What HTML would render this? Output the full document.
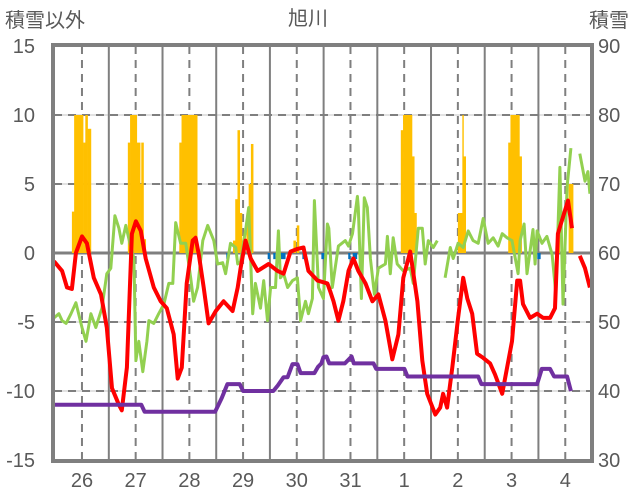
<!DOCTYPE html>
<html><head><meta charset="utf-8">
<style>
html,body{margin:0;padding:0;background:#fff;}
svg{display:block;}
text{font-family:"Liberation Sans","Noto Sans CJK JP",sans-serif;fill:#595959;}
</style></head>
<body>
<svg id="chart" width="636" height="501" viewBox="0 0 636 501" xmlns="http://www.w3.org/2000/svg">
  <text x="308" y="25" font-size="20" text-anchor="middle">旭川</text>
  <text x="5" y="27" font-size="20">積雪以外</text>
  <text x="589" y="27" font-size="20">積雪</text>
  <g id="grid"></g>
  <g id="bars"></g>
  <g id="lines"></g>
  <g id="axes"></g>
</svg>
<script>
// ---- data ----
const leftTicks = [15, 10, 5, 0, -5, -10, -15];
const rightTicks = [90, 80, 70, 60, 50, 40, 30];
const dayLabels = ["26","27","28","29","30","31","1","2","3","4"];

const redHours = [0,3.6,5.8,8,9.8,12.5,14.7,17.8,21,23.6,25.9,29,30.3,32.6,34.8,36.6,38.8,41,44.6,47.7,50.4,53.5,55.3,57.1,59.3,62,63.3,64.7,66.9,69.1,72.3,75.8,79.8,82.1,83.4,85.6,87.9,91,95.9,99.9,102.6,105.7,108.8,111.5,113.7,117.8,122.2,123.5,124.9,127.1,129.3,131.6,133.8,136,139.2,142.3,145,148.1,151.2,153.9,156.1,159.2,162.4,164.6,166.8,170.4,172.6,173.9,175.7,178,180.6,182.9,184.7,186.9,189.1,191.8,194.9,197.1,200.3,202.5,204.7,207,208.3,209.6,212.8,215.9,218.6,221.7,223.9,225.2,229.7,231.5,233,235,237.3,239.5];
const redValues = [-0.6,-1.3,-2.5,-2.6,0,1.2,0.7,-1.8,-3.0,-5.4,-9.8,-11,-11.4,-8.3,1.4,2.3,1.6,-0.4,-2.5,-3.5,-4.0,-5.9,-9.1,-8.3,-2.2,0.9,1.1,-0.1,-2.5,-5.1,-4.2,-3.5,-4.2,-2.5,-1.1,0.9,-0.4,-1.3,-0.8,-1.3,-1.5,0.1,0.3,0.4,-1.3,-2.0,-2.2,-2.8,-3.5,-4.9,-3.5,-1.3,-0.4,-1.3,-2.2,-3.5,-3.0,-4.9,-7.7,-5.9,-1.8,0.1,-3.5,-7.8,-10.2,-11.7,-11.2,-10.2,-11.2,-8.3,-4.7,-1.8,-3.3,-4.4,-7.3,-7.6,-8.0,-8.8,-10.2,-8.3,-6.4,-2.0,-2.0,-3.7,-4.7,-4.4,-4.7,-4.7,-4.0,1.4,3.8,1.8,null,-0.2,-1.1,-2.5];

const greenHours = [0,2.2,3.6,5.4,7.6,9.8,12.5,14.3,16.5,18.7,21.4,23.6,25.4,27.2,29,30.3,32.1,33.9,35.7,36.6,37.9,39.7,41.5,42.4,44.6,46.8,49.1,51.3,53.1,54.4,56.6,58.9,61.1,62.4,64.2,66.5,68.7,71.4,73.1,75.4,76.7,78.9,81.2,82.1,83.4,85.6,87,88.8,90,92.3,93.7,95.4,96.8,99,100.3,101.2,102.6,104.4,106.6,108.8,110.2,112.4,113.7,115.5,116.4,118.2,120.4,122.2,122.8,124.4,127.1,130.2,131.6,133.4,135.6,136,137.4,138.7,140,141.4,143.2,145,148.1,149,150.3,151.6,153.4,156.1,159.2,160.6,162.8,164.6,165.9,167.3,169.5,171.3,173,174.8,177.1,178.4,180.6,182.9,185.1,187.3,189.6,191.8,194,196.3,198.5,200.3,202.5,204.7,207.4,208.3,210.1,211.4,214.1,215,215.9,218.1,220.3,222.6,224.3,226.1,227.5,229.3,231,233,235,237.3,238.6,239.5];
const greenValues = [-4.7,-4.4,-4.9,-5.1,-4.4,-3.6,-5.4,-6.4,-4.4,-5.4,-4.0,-1.5,-1.1,2.7,1.8,0.7,2.0,0.7,-0.4,-7.8,-6.4,-8.6,-6.4,-4.9,-5.1,-4.4,-3.7,-2.2,-2.2,2.2,0.7,0.7,-1.8,-3.5,-2.5,0.9,2.0,0.9,-0.8,-0.7,-1.5,0.7,0.4,-0.8,-0.6,1.6,3.3,-4.4,-2.2,-4.0,-2.0,-4.9,-2.5,-2.5,1.6,-1.8,-1.5,-2.5,-2.0,-1.8,-4.9,-3.5,-4.4,-3.3,3.8,-2.5,-3.3,2.1,1.8,-2.5,0.5,0.9,0.5,1.4,4.1,3.3,-3.3,4.0,3.3,-0.4,-3.0,-1.1,-0.8,1.2,-1.5,1.1,-0.8,-1.3,-1.1,-2.2,1.8,1.8,-0.8,0.9,0.4,0.9,null,-1.8,0.4,-0.4,0.7,0.4,1.6,0.9,0.7,2.5,0.7,1.1,0.5,1.4,1.1,0.9,-1.5,0.9,2.1,-1.5,1.7,-0.8,1.6,0.7,1.2,-0.1,-3.0,6.2,-3.7,4.8,7.6,null,7.2,5.2,5.9,4.3];

const snowHours = [0,39,40.5,72,73.5,75,77.5,83,84.5,96,98,100,102.6,104.4,106.6,108.8,110.2,116.4,118,119.5,120.4,121.8,123,130,133,134,142.8,144,156.6,158,189.6,191,215.9,218,221.7,223.5,229.3,231,235,239.5];
const snowValues = [38,38,37,37,38,39,41,41,40,40,40,40.8,42,42,43.9,43.9,42.6,42.6,43.5,44,44.9,45,44,44,45,44,44,43.2,43.2,42.1,42.1,41,41,43.2,43.2,42.1,42.1,40,null,40];

const precipStart = [8,9,13,14,15, 33,34,37,38.5,39,40, 56,57, 80,81,82,83,84, 86,87,88, 107,108.5, 155,156,160,161, 180.5,182.5,183, 203,204,208, 225,230];
const precipEnd   = [9,13,14,15,16.5, 34,37,38.5,39,40,41, 57,64, 81,82,83,84,85, 87,88,89, 108,109.5, 156,160,161,162, 182.5,183,184, 204,208,209, 226,232];
const precipValues= [3,10,8,10,9, 8,10,8,5,8,1, 8,10, 0.9,3.9,8.9,2.9,0.9, 2.9,5,7.9, 0.9,2, 8.9,10,7,2.9, 2.9,10,7, 8,10,7, 2.8,5];

const blueStart = [77,95.5,98,101,111,119.5,131.5,133.5,216];
const blueEnd   = [78,96.5,99,103.5,112,122,132.5,135.5,217.5];
const blueValues= [-0.3,-0.3,-0.3,-0.3,-0.3,-0.3,-0.3,-0.3,-0.3];

// ---- scales ----
const X0 = 54, X1 = 591, Y0 = 46, Y1 = 460, HMAX = 240;
const xs = h => X0 + h / HMAX * (X1 - X0);
const yL = v => 253 - v * (Y1 - Y0) / 30;
const yR = r => Y1 - (r - 30) * (Y1 - Y0) / 60;
const NS = "http://www.w3.org/2000/svg";
function mk(tag, attrs, parent) {
  const e = document.createElementNS(NS, tag);
  for (const k in attrs) e.setAttribute(k, attrs[k]);
  parent.appendChild(e);
  return e;
}
const grid = document.getElementById('grid');
const bars = document.getElementById('bars');
const lines = document.getElementById('lines');
const axes = document.getElementById('axes');

// horizontal grid
leftTicks.forEach(v => {
  if (v === 15 || v === -15 || v === 0) return;
  const y = yL(v);
  const l1 = mk('line', {x1: X0, x2: X1, y1: y, y2: y, stroke: '#d9d9d9', 'stroke-width': 1.5}, grid);
  
  
  const l2 = mk('line', {x1: X0, x2: X1, y1: y, y2: y, stroke: '#7f7f7f', 'stroke-width': 2, 'stroke-dasharray': '8,6'}, grid);
  
  
});
// vertical lines
dayLabels.forEach((d, i) => {
  const xd = xs(12.5 + 24 * i);
  const ld = mk('line', {x1: xd, x2: xd, y1: Y0, y2: Y1, stroke: '#7f7f7f', 'stroke-width': 2, 'stroke-dasharray': '8,6'}, grid);
  
  
  const xsol = xs(24.5 + 24 * i);
  if (xsol < X1 - 3) {
    const ls = mk('line', {x1: xsol, x2: xsol, y1: Y0, y2: Y1, stroke: '#7f7f7f', 'stroke-width': 2}, grid);
    
    
  }
  const t = mk('text', {x: xd, y: 487, 'font-size': 20, 'text-anchor': 'middle'}, axes);
  t.textContent = d;
  
  
});

// bars
precipValues.forEach((v, i) => {
  const x = xs(precipStart[i]), w = xs(precipEnd[i]) - x;
  const r = mk('rect', {x: x, y: yL(v), width: w + 0.3, height: yL(0) - yL(v), fill: '#FFC000'}, bars);
  
  
});
blueValues.forEach((v, i) => {
  const x = xs(blueStart[i]), w = xs(blueEnd[i]) - x;
  const r = mk('rect', {x: x, y: yL(0), width: w, height: yL(v) - yL(0) + 2, fill: '#0070C0'}, bars);
  
  
});

// zero line
const z = mk('line', {x1: X0, x2: X1, y1: yL(0), y2: yL(0), stroke: '#7f7f7f', 'stroke-width': 3}, grid);



function pathFrom(hs, vs, yf) {
  let d = '', pen = false;
  hs.forEach((h, i) => {
    const v = vs[i];
    if (v === null) { pen = false; return; }
    d += (pen ? 'L' : 'M') + xs(h).toFixed(1) + ',' + yf(v).toFixed(1);
    pen = true;
  });
  return d;
}
const g = mk('path', {d: pathFrom(greenHours, greenValues, yL), fill: 'none', stroke: '#92D050', 'stroke-width': 3, 'stroke-linejoin': 'round'}, lines);


const rd = mk('path', {d: pathFrom(redHours, redValues, yL), fill: 'none', stroke: '#FF0000', 'stroke-width': 4, 'stroke-linejoin': 'round'}, lines);


const pu = mk('path', {d: pathFrom(snowHours, snowValues, yR), fill: 'none', stroke: '#7030A0', 'stroke-width': 4, 'stroke-linejoin': 'round'}, lines);



// frame
const fr = mk('rect', {x: X0 - 1, y: Y0 - 1, width: X1 - X0 + 2, height: Y1 - Y0 + 2, fill: 'none', stroke: '#7f7f7f', 'stroke-width': 4}, axes);



leftTicks.forEach(v => {
  const t = mk('text', {x: 35, y: yL(v) + 7, 'font-size': 20, 'text-anchor': 'end'}, axes);
  t.textContent = v;
  
  
});
rightTicks.forEach(v => {
  const t = mk('text', {x: 598, y: yR(v) + 7, 'font-size': 20}, axes);
  t.textContent = v;
  
  
});
</script>
</body></html>
